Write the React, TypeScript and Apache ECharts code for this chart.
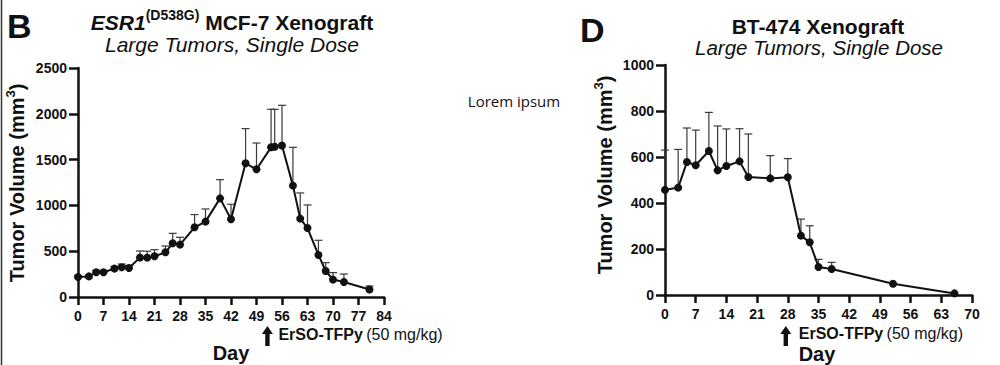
import React, { useEffect, useRef } from "react";
import * as echarts from "echarts";

// ---------- Data ----------
const leftDays = [0, 3, 5, 7, 10, 12, 14, 17, 19, 21, 24, 26, 28, 32, 35, 39, 42, 46, 49, 53, 54, 56, 59, 61, 63, 66, 68, 70, 73, 80];
const leftVolume = [218, 225, 270, 270, 310, 324, 317, 430, 430, 444, 488, 586, 572, 761, 823, 1077, 848, 1460, 1394, 1634, 1640, 1653, 1216, 856, 753, 459, 284, 190, 164, 81];
const leftSem = [15, 15, 20, 20, 25, 36, 28, 72, 70, 73, 69, 109, 80, 139, 138, 204, 164, 378, 287, 415, 409, 440, 418, 280, 252, 160, 91, 76, 87, 39];

const rightDays = [0, 3, 5, 7, 10, 12, 14, 17, 19, 24, 28, 31, 33, 35, 38, 52, 66];
const rightVolume = [457, 467, 578, 564, 626, 542, 561, 581, 513, 507, 512, 258, 229, 122, 113, 49, 7];
const rightSem = [173, 166, 148, 153, 168, 193, 161, 142, 187, 99, 81, 72, 72, 33, 29, 0, 0];

const leftYTicks = { min: 0, max: 2500, interval: 500 };
const rightYTicks = { min: 0, max: 1000, interval: 200 };
const leftXTicks = { min: 0, max: 84, interval: 7 };
const rightXTicks = { min: 0, max: 70, interval: 7 };

const leftDoseDay = 52;
const rightDoseDay = 28;

const FONT = "'Liberation Sans', Arial, Helvetica, sans-serif";

function errorBarSeries(xIdx: number, days: number[], vals: number[], errs: number[]) {
  return {
    type: "custom",
    xAxisIndex: xIdx,
    yAxisIndex: xIdx,
    z: 1,
    silent: true,
    data: days.map((d, i) => [d, vals[i], errs[i]]),
    renderItem: (params: any, api: any) => {
      const x = api.value(0);
      const y = api.value(1);
      const e = api.value(2);
      if (!e) return { type: "group", children: [] };
      const p0 = api.coord([x, y]);
      const p1 = api.coord([x, y + e]);
      const st = { stroke: "#3a3a3a", lineWidth: 1.2 };
      return {
        type: "group",
        children: [
          { type: "line", shape: { x1: p0[0], y1: p0[1], x2: p1[0], y2: p1[1] }, style: st },
          { type: "line", shape: { x1: p1[0] - 4, y1: p1[1], x2: p1[0] + 4, y2: p1[1] }, style: st },
        ],
      };
    },
  };
}

function lineSeries(idx: number, days: number[], vals: number[]) {
  return {
    type: "line",
    xAxisIndex: idx,
    yAxisIndex: idx,
    z: 3,
    data: days.map((d, i) => [d, vals[i]]),
    symbol: "circle",
    symbolSize: 8,
    lineStyle: { color: "#111", width: 2 },
    itemStyle: { color: "#111" },
  };
}

const plain = (v: number) => String(v);

function xAxisCfg(gridIndex: number, t: { min: number; max: number; interval: number }) {
  return {
    type: "value",
    gridIndex,
    min: t.min,
    max: t.max,
    interval: t.interval,
    axisLine: { show: true, onZero: false, lineStyle: { color: "#111", width: 2.5 } },
    axisTick: { show: true, length: 8, lineStyle: { color: "#111", width: 2.5 } },
    axisLabel: { color: "#111", fontWeight: "bold", fontSize: 14, fontFamily: FONT, margin: 12, formatter: plain },
    splitLine: { show: false },
  };
}

function yAxisCfg(gridIndex: number, t: { min: number; max: number; interval: number }) {
  return {
    type: "value",
    gridIndex,
    min: t.min,
    max: t.max,
    interval: t.interval,
    axisLine: { show: true, lineStyle: { color: "#111", width: 2.5 } },
    axisTick: { show: true, length: 9, lineStyle: { color: "#111", width: 2.5 } },
    axisLabel: { color: "#111", fontWeight: "bold", fontSize: 14, fontFamily: FONT, margin: 11, formatter: plain },
    splitLine: { show: false },
  };
}

function arrow(cx: number, top: number) {
  return {
    type: "polygon",
    shape: {
      points: [
        [cx, top],
        [cx + 5.5, top + 8],
        [cx + 2.2, top + 8],
        [cx + 2.2, top + 20],
        [cx - 2.2, top + 20],
        [cx - 2.2, top + 8],
        [cx - 5.5, top + 8],
      ],
    },
    style: { fill: "#111" },
  };
}

export default function App() {
  const ref = useRef<HTMLDivElement>(null);
  useEffect(() => {
    if (!ref.current) return;
    const chart = echarts.init(ref.current, undefined, { renderer: "svg" });
    chart.setOption({
      animation: false,
      backgroundColor: "#fff",
      grid: [
        { left: 78, top: 68, width: 306, height: 229 },
        { left: 665, top: 65, width: 307, height: 230 },
      ],
      xAxis: [xAxisCfg(0, leftXTicks), xAxisCfg(1, rightXTicks)],
      yAxis: [yAxisCfg(0, leftYTicks), yAxisCfg(1, rightYTicks)],
      series: [
        errorBarSeries(0, leftDays, leftVolume, leftSem),
        lineSeries(0, leftDays, leftVolume),
        errorBarSeries(1, rightDays, rightVolume, rightSem),
        lineSeries(1, rightDays, rightVolume),
      ],
    });

    const lp = chart.convertToPixel({ gridIndex: 0 }, [leftDoseDay, 0]) as number[];
    const rp = chart.convertToPixel({ gridIndex: 1 }, [rightDoseDay, 0]) as number[];

    const yLabelRich = {
      a: { fontFamily: FONT, fontWeight: "bold", fontSize: 20, fill: "#111", lineHeight: 26 },
      s: { fontFamily: FONT, fontWeight: "bold", fontSize: 13, fill: "#111", verticalAlign: "top", lineHeight: 26 },
    };
    const doseRich = {
      b: { fontFamily: FONT, fontWeight: "bold", fontSize: 16, fill: "#111" },
      r: { fontFamily: FONT, fontSize: 16, fill: "#111" },
    };

    chart.setOption({
      graphic: [
        { type: "line", shape: { x1: 1.5, y1: 0, x2: 1.5, y2: 365 }, style: { stroke: "#333", lineWidth: 1.5 } },
        { type: "text", x: 7, y: 9, style: { text: "B", font: `bold 34px ${FONT}`, fill: "#111", verticalAlign: "top" } },
        { type: "text", x: 580, y: 13, style: { text: "D", font: `bold 34px ${FONT}`, fill: "#111", verticalAlign: "top" } },
        {
          type: "text",
          x: 232,
          y: 22,
          style: {
            text: "{i|ESR1}{s|(D538G)}{b| MCF-7 Xenograft}",
            align: "center",
            verticalAlign: "middle",
            rich: {
              i: { fontFamily: FONT, fontStyle: "italic", fontWeight: "bold", fontSize: 21, fill: "#111", lineHeight: 28 },
              s: { fontFamily: FONT, fontWeight: "bold", fontSize: 14, fill: "#111", verticalAlign: "top", lineHeight: 28 },
              b: { fontFamily: FONT, fontWeight: "bold", fontSize: 21, fill: "#111", lineHeight: 28 },
            },
          },
        },
        {
          type: "text",
          x: 232,
          y: 44,
          style: { text: "Large Tumors, Single Dose", font: `italic 21px ${FONT}`, fill: "#111", align: "center", verticalAlign: "middle" },
        },
        {
          type: "text",
          x: 818,
          y: 26,
          style: { text: "BT-474 Xenograft", font: `bold 21px ${FONT}`, fill: "#111", align: "center", verticalAlign: "middle" },
        },
        {
          type: "text",
          x: 819,
          y: 47,
          style: { text: "Large Tumors, Single Dose", font: `italic 20.5px ${FONT}`, fill: "#111", align: "center", verticalAlign: "middle" },
        },
        {
          type: "text",
          x: 17,
          y: 183,
          rotation: Math.PI / 2,
          style: { text: "{a|Tumor Volume (mm}{s|3}{a|)}", rich: yLabelRich, align: "center", verticalAlign: "middle" },
        },
        {
          type: "text",
          x: 605,
          y: 175,
          rotation: Math.PI / 2,
          style: { text: "{a|Tumor Volume (mm}{s|3}{a|)}", rich: yLabelRich, align: "center", verticalAlign: "middle" },
        },
        {
          type: "text",
          x: 514,
          y: 101,
          style: { text: "Lorem ipsum", font: `15px 'Open Sans', ${FONT}`, fill: "#111", align: "center", verticalAlign: "middle" },
        },
        arrow(lp[0], 326),
        {
          type: "text",
          x: lp[0] + 11,
          y: 334,
          style: { text: "{b|ErSO-TFPy} {r|(50 mg/kg)}", rich: doseRich, verticalAlign: "middle" },
        },
        arrow(rp[0] - 2, 326),
        {
          type: "text",
          x: rp[0] + 11,
          y: 333,
          style: { text: "{b|ErSO-TFPy} {r|(50 mg/kg)}", rich: doseRich, verticalAlign: "middle" },
        },
        { type: "text", x: 231, y: 353, style: { text: "Day", font: `bold 20px ${FONT}`, fill: "#111", align: "center", verticalAlign: "middle" } },
        { type: "text", x: 817, y: 354, style: { text: "Day", font: `bold 20px ${FONT}`, fill: "#111", align: "center", verticalAlign: "middle" } },
      ],
    });

    return () => chart.dispose();
  }, []);

  return <div ref={ref} style={{ position: "absolute", left: 0, top: 0, width: 1000, height: 365 }} />;
}
